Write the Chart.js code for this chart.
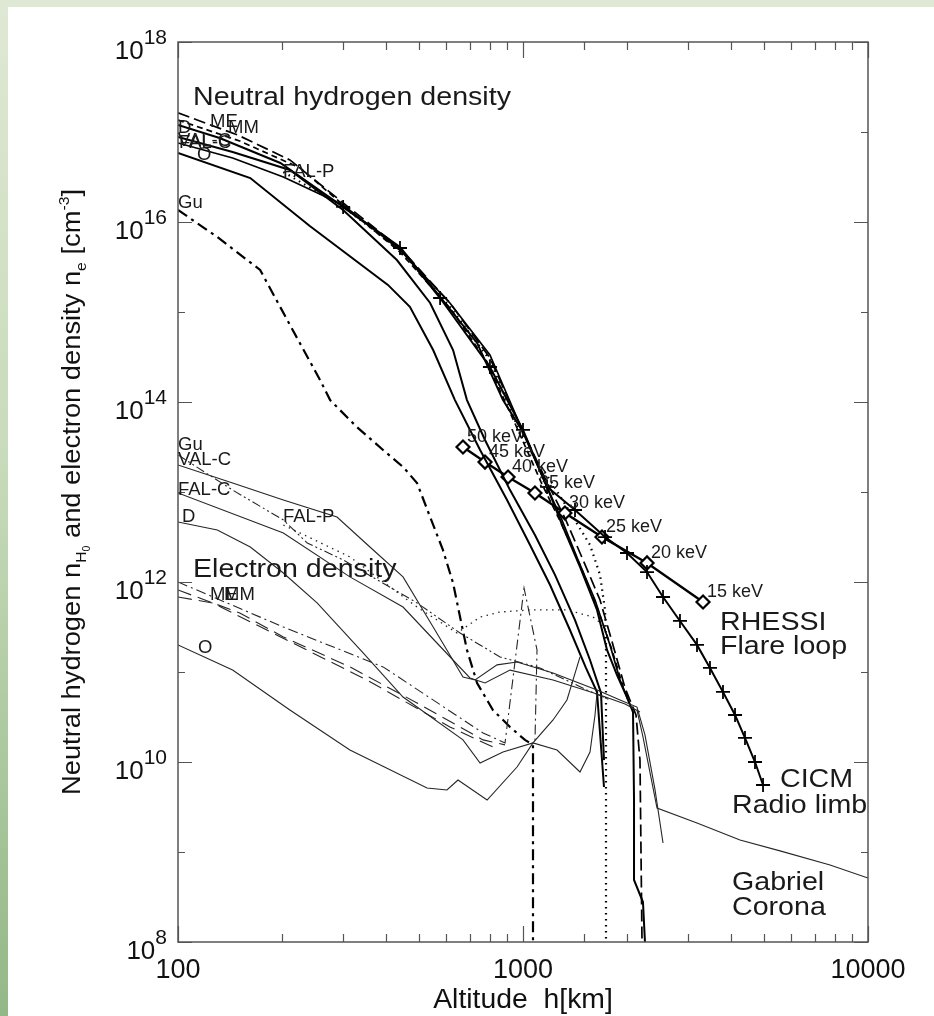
<!DOCTYPE html>
<html>
<head>
<meta charset="utf-8">
<title>Neutral hydrogen and electron density versus altitude</title>
<script src="https://cdn.jsdelivr.net/npm/chart.js@4.4.1/dist/chart.umd.min.js"></script>
<style>
  html, body { margin:0; padding:0; background:#ffffff; }
  #page { position:relative; width:934px; height:1016px; overflow:hidden; background:#ffffff; }
  #topband { position:absolute; left:0; top:0; width:934px; height:7px; background:#dfe8d4; }
  #leftband { position:absolute; left:0; top:0; width:8px; height:1016px;
    background:linear-gradient(to bottom, #dfe8d4 0%, #c8dbba 45%, #93b887 100%); }
  canvas { position:absolute; left:0; top:0; }
</style>
</head>
<body>
<div id="page">
  <div id="topband"></div>
  <div id="leftband"></div>
  <canvas id="chart" width="934" height="1016"></canvas>
</div>
<script>
// ---------- axis ticks ----------
const xDecades = [100, 1000, 10000];
const yExponents = [8, 10, 12, 14, 16, 18];

// ---------- neutral hydrogen density [cm^-3] vs altitude [km] ----------
const nhMeAlt = [100, 149, 211, 301, 440, 614, 802, 980, 1158, 1323, 1493, 1672, 1823, 1976, 2126, 2183, 2213];
const nhMeDen = [1.63e17, 9.26e16, 4.89e16, 1.63e16, 5.14e15, 1.26e15, 3.08e14, 5.55e13, 1.43e13, 5.14e12, 1.76e12, 6.31e11, 2.0e11, 6.64e10, 3.33e10, 1.05e10, 1e8];

const nhMmAlt = [100, 151, 226, 301, 440, 614, 787, 961, 1128, 1297, 1463, 1639, 1811, 1963, 2042];
const nhMmDen = [1.36e17, 7.94e16, 3.98e16, 1.55e16, 4.64e15, 1.11e15, 2.78e14, 5.14e13, 1.29e13, 4.3e12, 1.55e12, 5.27e11, 1.76e11, 6.31e10, 4.89e10];

const nhDAlt = [100, 132, 198, 301, 440, 575, 736, 875, 1000, 1174, 1306, 1463, 1639, 1752, 1873, 1989, 2084, 2098, 2098, 2227, 2257];
const nhDDen = [1.2e17, 8.58e16, 4.53e16, 1.47e16, 5.27e15, 1.47e15, 4.53e14, 1.05e14, 4.64e13, 1.14e13, 4.08e12, 1.47e12, 4.89e11, 1.76e11, 9.26e10, 5.55e10, 3.59e10, 3.78e9, 4.89e8, 2.78e8, 1e8];

const nhValcAlt = [100, 144, 211, 301, 431, 538, 627, 688, 776, 917, 1083, 1238, 1415, 1564, 1683, 1717];
const nhValcDen = [8.8e16, 6.0e16, 3.78e16, 1.36e16, 3.78e15, 1.26e15, 3.78e14, 1.05e14, 3.78e13, 1.05e13, 3.33e12, 1.2e12, 3.78e11, 1.36e11, 5.85e10, 1.05e10];

const nhOAlt = [100, 162, 241, 406, 470, 549, 635, 751, 899, 1048, 1198, 1368, 1522, 1639, 1717];
const nhODen = [5.85e16, 3.08e16, 9.03e15, 2.0e15, 1.14e15, 3.78e14, 1.05e14, 2.93e13, 8.15e12, 2.58e12, 9.26e11, 2.93e11, 1.11e11, 6.0e10, 5.27e9];

const nhFalcAlt = [100, 144, 202, 301, 440, 614, 802, 967, 1143, 1297, 1443, 1617, 1787, 1911, 2016];
const nhFalcDen = [7.55e16, 5.14e16, 3.16e16, 1.55e16, 4.89e15, 1.26e15, 3.33e14, 6.31e13, 1.43e13, 4.89e12, 1.76e12, 6.31e11, 2.0e11, 8.15e10, 4.89e10];

const nhFalpAlt = [202, 301, 440, 614, 802, 1000, 1198, 1396, 1564, 1672, 1729, 1740, 1740];
const nhFalpDen = [3.59e16, 1.47e16, 4.89e15, 1.14e15, 2.93e14, 3.78e13, 1.36e13, 5.27e12, 2.58e12, 1.2e12, 4.89e11, 2.27e11, 1e8];

const nhGuAlt = [100, 130, 173, 215, 258, 276, 330, 393, 449, 493, 538, 586, 627, 657, 688, 736, 818, 917, 1013, 1069, 1069];
const nhGuDen = [1.36e16, 6.81e15, 2.93e15, 6.31e14, 1.76e14, 1.05e14, 5.27e13, 2.93e13, 1.9e13, 1.26e13, 5.27e12, 2.27e12, 9.75e11, 4.08e11, 1.76e11, 7.55e10, 3.78e10, 2.45e10, 1.76e10, 1.55e10, 1e8];

// ---------- CICM radio limb ----------
const cicmAlt = [301, 440, 575, 802, 1000, 1174, 1415, 1729, 2002, 2288, 2546, 2851, 3194, 3483, 3799, 4117, 4400, 4704, 4963];
const cicmDen = [1.47e16, 5.14e15, 1.43e15, 2.45e14, 4.89e13, 1.14e13, 6.31e12, 3.16e12, 2.1e12, 1.29e12, 6.81e11, 3.69e11, 2.0e11, 1.11e11, 6.0e10, 3.33e10, 1.85e10, 1e10, 5.55e9];

// ---------- RHESSI flare loop ----------
const rhessiAlt = [670, 776, 905, 1083, 1323, 1694, 2288, 3325];
const rhessiDen = [3.16e13, 2.15e13, 1.47e13, 9.75e12, 5.84e12, 3.16e12, 1.63e12, 6.0e11];
const rhessiKeV = [50, 45, 40, 35, 30, 25, 20, 15];

// ---------- electron density ----------
const elValcAlt = [100, 144, 202, 289, 360, 449, 549, 670, 726, 841, 961, 1222, 1639, 1911, 2140, 2257, 2414, 2546];
const elValcDen = [2.0e13, 1.26e13, 8.15e12, 5.27e12, 2.45e12, 1.14e12, 3.16e11, 8.8e10, 8.15e10, 1.2e11, 1.29e11, 9.75e10, 6.31e10, 4.89e10, 4.08e10, 2.0e10, 4.89e9, 1.26e9];

const elFalcAlt = [100, 202, 315, 449, 563, 702, 776, 917, 1222, 1639, 1976, 2183];
const elFalcDen = [9.75e12, 3.5e12, 1.14e12, 5.27e11, 2.1e11, 8.58e10, 7.55e10, 1.05e11, 8.15e10, 5.7e10, 4.41e10, 3.59e10];

const elDAlt = [100, 130, 162, 202, 253, 344, 449, 670, 751, 875, 1069, 1255, 1463, 1564, 1617, 1639];
const elDDen = [4.64e12, 3.78e12, 2.45e12, 1.26e12, 5.85e11, 1.63e11, 5.27e10, 1.76e10, 9.75e9, 1.29e10, 1.63e10, 1.36e10, 7.74e9, 1.29e10, 3.33e10, 5.85e10];

const elOAlt = [100, 144, 211, 315, 527, 602, 648, 787, 961, 1069, 1222, 1341, 1463];
const elODen = [2.0e11, 1.05e11, 3.78e10, 1.36e10, 5.14e9, 4.89e9, 6.31e9, 3.78e9, 8.8e9, 1.63e10, 2.93e10, 4.89e10, 1.47e11];

const elFalpAlt = [202, 315, 493, 644, 751, 858, 1048, 1341, 1596, 1706];
const elFalpDen = [4.3e12, 1.9e12, 5.27e11, 2.71e11, 4.08e11, 4.64e11, 4.89e11, 4.89e11, 4.08e11, 3.33e11];

const elGuAlt = [100, 144, 202, 237, 301, 493, 657, 858, 1120, 1533, 1787];
const elGuDen = [2.58e13, 1.05e13, 4.89e12, 2.71e12, 1.76e12, 5.85e11, 2.71e11, 1.47e11, 1.11e11, 6.31e10, 4.89e10];

const elMeAlt = [100, 151, 202, 315, 493, 766, 887];
const elMeDen = [8.15e11, 4.53e11, 2.45e11, 1.14e11, 4.53e10, 1.76e10, 1.55e10];

const elMmAlt = [100, 126, 215, 353, 614, 818];
const elMmDen = [6.81e11, 5.85e11, 2.1e11, 8.15e10, 2.45e10, 1.47e10];

const elMe2Alt = [100, 202, 393, 766, 887, 1007, 1098, 1083];
const elMe2Den = [1e12, 3.16e11, 1.14e11, 2.1e10, 1.63e10, 8.58e11, 1.76e11, 1.63e10];

// ---------- Gabriel corona ----------
const gabrielAlt = [2140, 2227, 2446, 3194, 4256, 5558, 7762, 10000];
const gabrielDen = [3.78e10, 1.9e10, 3.08e9, 2.1e9, 1.36e9, 1.03e9, 7.17e8, 5.14e8];

function pts(alt, den) { return alt.map((a, i) => ({ x: a, y: den[i] })); }

const FONT = '"Liberation Sans", Arial, Helvetica, sans-serif';
const INK = '#000000';
const THIN = '#262626';

function line(data, color, width, dash, extra) {
  return Object.assign({
    data: data, borderColor: color, borderWidth: width, borderDash: dash || [],
    pointRadius: 0, pointHoverRadius: 0, tension: 0, fill: false, showLine: true
  }, extra || {});
}

const datasets = [
  // electron density (thin)
  line(pts(elValcAlt, elValcDen), THIN, 1.1),
  line(pts(elFalcAlt, elFalcDen), THIN, 1.1),
  line(pts(elDAlt, elDDen), THIN, 1.1),
  line(pts(elOAlt, elODen), THIN, 1.1),
  line(pts(elFalpAlt, elFalpDen), THIN, 1.3, [1.5, 4.5]),
  line(pts(elGuAlt, elGuDen), THIN, 1.1, [9, 3, 2, 3, 2, 3]),
  line(pts(elMeAlt, elMeDen), THIN, 1.1, [14, 7]),
  line(pts(elMmAlt, elMmDen), THIN, 1.1, [14, 7]),
  line(pts(elMe2Alt, elMe2Den), THIN, 1.1, [10, 4, 2, 4]),
  line(pts(gabrielAlt, gabrielDen), THIN, 1.1),
  // neutral hydrogen (thick)
  line(pts(nhGuAlt, nhGuDen), INK, 2.2, [11, 5, 3, 5]),
  line(pts(nhMeAlt, nhMeDen), INK, 1.7, [12, 5]),
  line(pts(nhMmAlt, nhMmDen), INK, 1.7, [6, 4]),
  line(pts(nhFalpAlt, nhFalpDen), INK, 2.2, [1.5, 4.5]),
  line(pts(nhFalcAlt, nhFalcDen), INK, 1.7),
  line(pts(nhDAlt, nhDDen), INK, 2.0),
  line(pts(nhValcAlt, nhValcDen), INK, 2.0),
  line(pts(nhOAlt, nhODen), INK, 2.0),
  // CICM radio limb with crosses
  line(pts(cicmAlt, cicmDen), INK, 2.0, [], {
    pointStyle: 'cross', pointRadius: 7, pointBorderWidth: 1.8,
    pointBorderColor: INK, pointBackgroundColor: INK
  }),
  // RHESSI flare loop with open diamonds
  line(pts(rhessiAlt, rhessiDen), INK, 2.4, [], {
    pointStyle: 'rectRot', pointRadius: 6.5, pointBorderWidth: 2.2,
    pointBorderColor: INK, pointBackgroundColor: '#ffffff'
  })
];
const RHESSI_INDEX = datasets.length - 1;

// free text labels, offsets in pixels from the plot's top-left corner
const textLabels = [
  { t: 'Neutral hydrogen density', dx: 15, dy: 63, s: 26, big: true },
  { t: 'D', dx: 0, dy: 91, s: 18.5 },
  { t: 'ME', dx: 32, dy: 85, s: 18.5 },
  { t: 'MM', dx: 50, dy: 91, s: 18.5 },
  { t: 'VAL-C', dx: 0, dy: 104, s: 18.5 },
  { t: 'FAL-C', dx: 1, dy: 106, s: 18.5 },
  { t: 'O', dx: 19, dy: 118, s: 18.5 },
  { t: 'FAL-P', dx: 105, dy: 135, s: 18.5 },
  { t: 'Gu', dx: 0, dy: 166, s: 18.5 },
  { t: 'Gu', dx: 0, dy: 408, s: 18.5 },
  { t: 'VAL-C', dx: 0, dy: 423, s: 18.5 },
  { t: 'FAL-C', dx: 0, dy: 453, s: 18.5 },
  { t: 'D', dx: 4, dy: 480, s: 18.5 },
  { t: 'FAL-P', dx: 105, dy: 480, s: 18.5 },
  { t: 'Electron density', dx: 15, dy: 535, s: 26, big: true },
  { t: 'ME', dx: 32, dy: 558, s: 18.5 },
  { t: 'MM', dx: 46, dy: 558, s: 18.5 },
  { t: 'O', dx: 20, dy: 611, s: 18.5 },
  { t: 'RHESSI', dx: 542, dy: 588, s: 26, big: true },
  { t: 'Flare loop', dx: 542, dy: 612, s: 26, big: true },
  { t: 'CICM', dx: 602, dy: 745, s: 26, big: true },
  { t: 'Radio limb', dx: 554, dy: 771, s: 26, big: true },
  { t: 'Gabriel', dx: 554, dy: 848, s: 26, big: true },
  { t: 'Corona', dx: 554, dy: 873, s: 26, big: true }
];

function drawText(ctx, str, x, y, size, sx) {
  ctx.save();
  ctx.font = size + 'px ' + FONT;
  ctx.translate(x, y);
  ctx.scale(sx || 1, 1);
  ctx.fillText(str, 0, 0);
  ctx.restore();
}

function isDecade(v) {
  const l = Math.log10(v);
  return Math.abs(l - Math.round(l)) < 1e-6;
}

const decorations = {
  id: 'decorations',
  afterDatasetsDraw(chart) {
    const ctx = chart.ctx;
    const a = chart.chartArea;
    const xs = chart.scales.x, ys = chart.scales.y;
    ctx.save();

    // frame
    ctx.strokeStyle = '#555555';
    ctx.lineWidth = 1.5;
    ctx.strokeRect(a.left, a.top, a.right - a.left, a.bottom - a.top);

    // inward tick marks on all four sides
    ctx.lineWidth = 1.2;
    ctx.beginPath();
    xs.ticks.forEach(t => {
      const px = Math.round(xs.getPixelForValue(t.value)) + 0.5;
      const len = isDecade(t.value) ? 16 : 8;
      ctx.moveTo(px, a.bottom); ctx.lineTo(px, a.bottom - len);
      ctx.moveTo(px, a.top); ctx.lineTo(px, a.top + len);
    });
    ys.ticks.forEach(t => {
      if (!isDecade(t.value)) return;
      const e = Math.round(Math.log10(t.value));
      const py = Math.round(ys.getPixelForValue(t.value)) + 0.5;
      const len = e % 2 === 0 ? 14 : 7;
      ctx.moveTo(a.left, py); ctx.lineTo(a.left + len, py);
      ctx.moveTo(a.right, py); ctx.lineTo(a.right - len, py);
    });
    ctx.stroke();

    // y tick labels 10^n
    ctx.fillStyle = '#111111';
    ctx.textBaseline = 'alphabetic';
    yExponents.forEach(e => {
      const py = ys.getPixelForValue(Math.pow(10, e));
      ctx.font = '21px ' + FONT;
      const sup = String(e);
      const ws = ctx.measureText(sup).width;
      ctx.font = '26px ' + FONT;
      const wb = ctx.measureText('10').width;
      const right = a.left - 11;
      ctx.font = '26px ' + FONT;
      ctx.fillText('10', right - ws - wb, py + 17);
      ctx.font = '21px ' + FONT;
      ctx.fillText(sup, right - ws, py + 2);
    });

    // y axis title with sub/superscripts, slightly stretched along its length
    const parts = [
      { t: 'Neutral hydrogen n', s: 26, dy: 0 },
      { t: 'H', s: 15, dy: 6 },
      { t: '0', s: 10, dy: 10 },
      { t: ' and electron density n', s: 26, dy: 0 },
      { t: 'e', s: 15, dy: 6 },
      { t: ' [cm', s: 26, dy: 0 },
      { t: '-3', s: 15, dy: -11 },
      { t: ']', s: 26, dy: 0 }
    ];
    let total = 0;
    parts.forEach(p => { ctx.font = p.s + 'px ' + FONT; p.w = ctx.measureText(p.t).width; total += p.w; });
    ctx.save();
    ctx.translate(80, (a.top + a.bottom) / 2);
    ctx.rotate(-Math.PI / 2);
    ctx.scale(1.05, 1);
    let cx = -total / 2;
    parts.forEach(p => { ctx.font = p.s + 'px ' + FONT; ctx.fillText(p.t, cx, p.dy); cx += p.w; });
    ctx.restore();

    // free labels
    ctx.fillStyle = '#1a1a1a';
    textLabels.forEach(l => drawText(ctx, l.t, a.left + l.dx, a.top + l.dy, l.s, l.big ? 1.1 : 1));

    // RHESSI photon energies next to the diamonds
    const meta = chart.getDatasetMeta(RHESSI_INDEX);
    meta.data.forEach((pt, i) => {
      drawText(ctx, rhessiKeV[i] + ' keV', pt.x + 4, pt.y - 5, 18, 1);
    });

    // x axis title
    ctx.fillStyle = '#111111';
    ctx.font = '27px ' + FONT;
    const title = 'Altitude  h[km]';
    const tw = ctx.measureText(title).width * 1.05;
    drawText(ctx, title, (a.left + a.right) / 2 - tw / 2, 1008, 27, 1.05);
    ctx.restore();
  }
};

new Chart(document.getElementById('chart'), {
  type: 'line',
  data: { datasets: datasets },
  options: {
    responsive: false,
    animation: false,
    devicePixelRatio: 1,
    layout: { padding: { top: 42, right: 66, bottom: 0, left: 0 } },
    plugins: { legend: { display: false }, tooltip: { enabled: false }, title: { display: false } },
    events: [],
    scales: {
      x: {
        type: 'logarithmic', min: 100, max: 10000,
        grid: { display: false, drawTicks: false, tickLength: 0 },
        border: { display: false },
        afterFit: s => { s.height = 74; },
        ticks: {
          autoSkip: false, maxRotation: 0, minRotation: 0, padding: 12,
          color: '#111111', font: { family: FONT, size: 27 },
          callback: v => (xDecades.includes(Math.round(v)) && isDecade(v)) ? String(Math.round(v)) : ''
        }
      },
      y: {
        type: 'logarithmic', min: 1e8, max: 1e18,
        grid: { display: false, drawTicks: false, tickLength: 0 },
        border: { display: false },
        afterFit: s => { s.width = 178; },
        ticks: { display: false }
      }
    }
  },
  plugins: [decorations]
});
</script>
</body>
</html>
